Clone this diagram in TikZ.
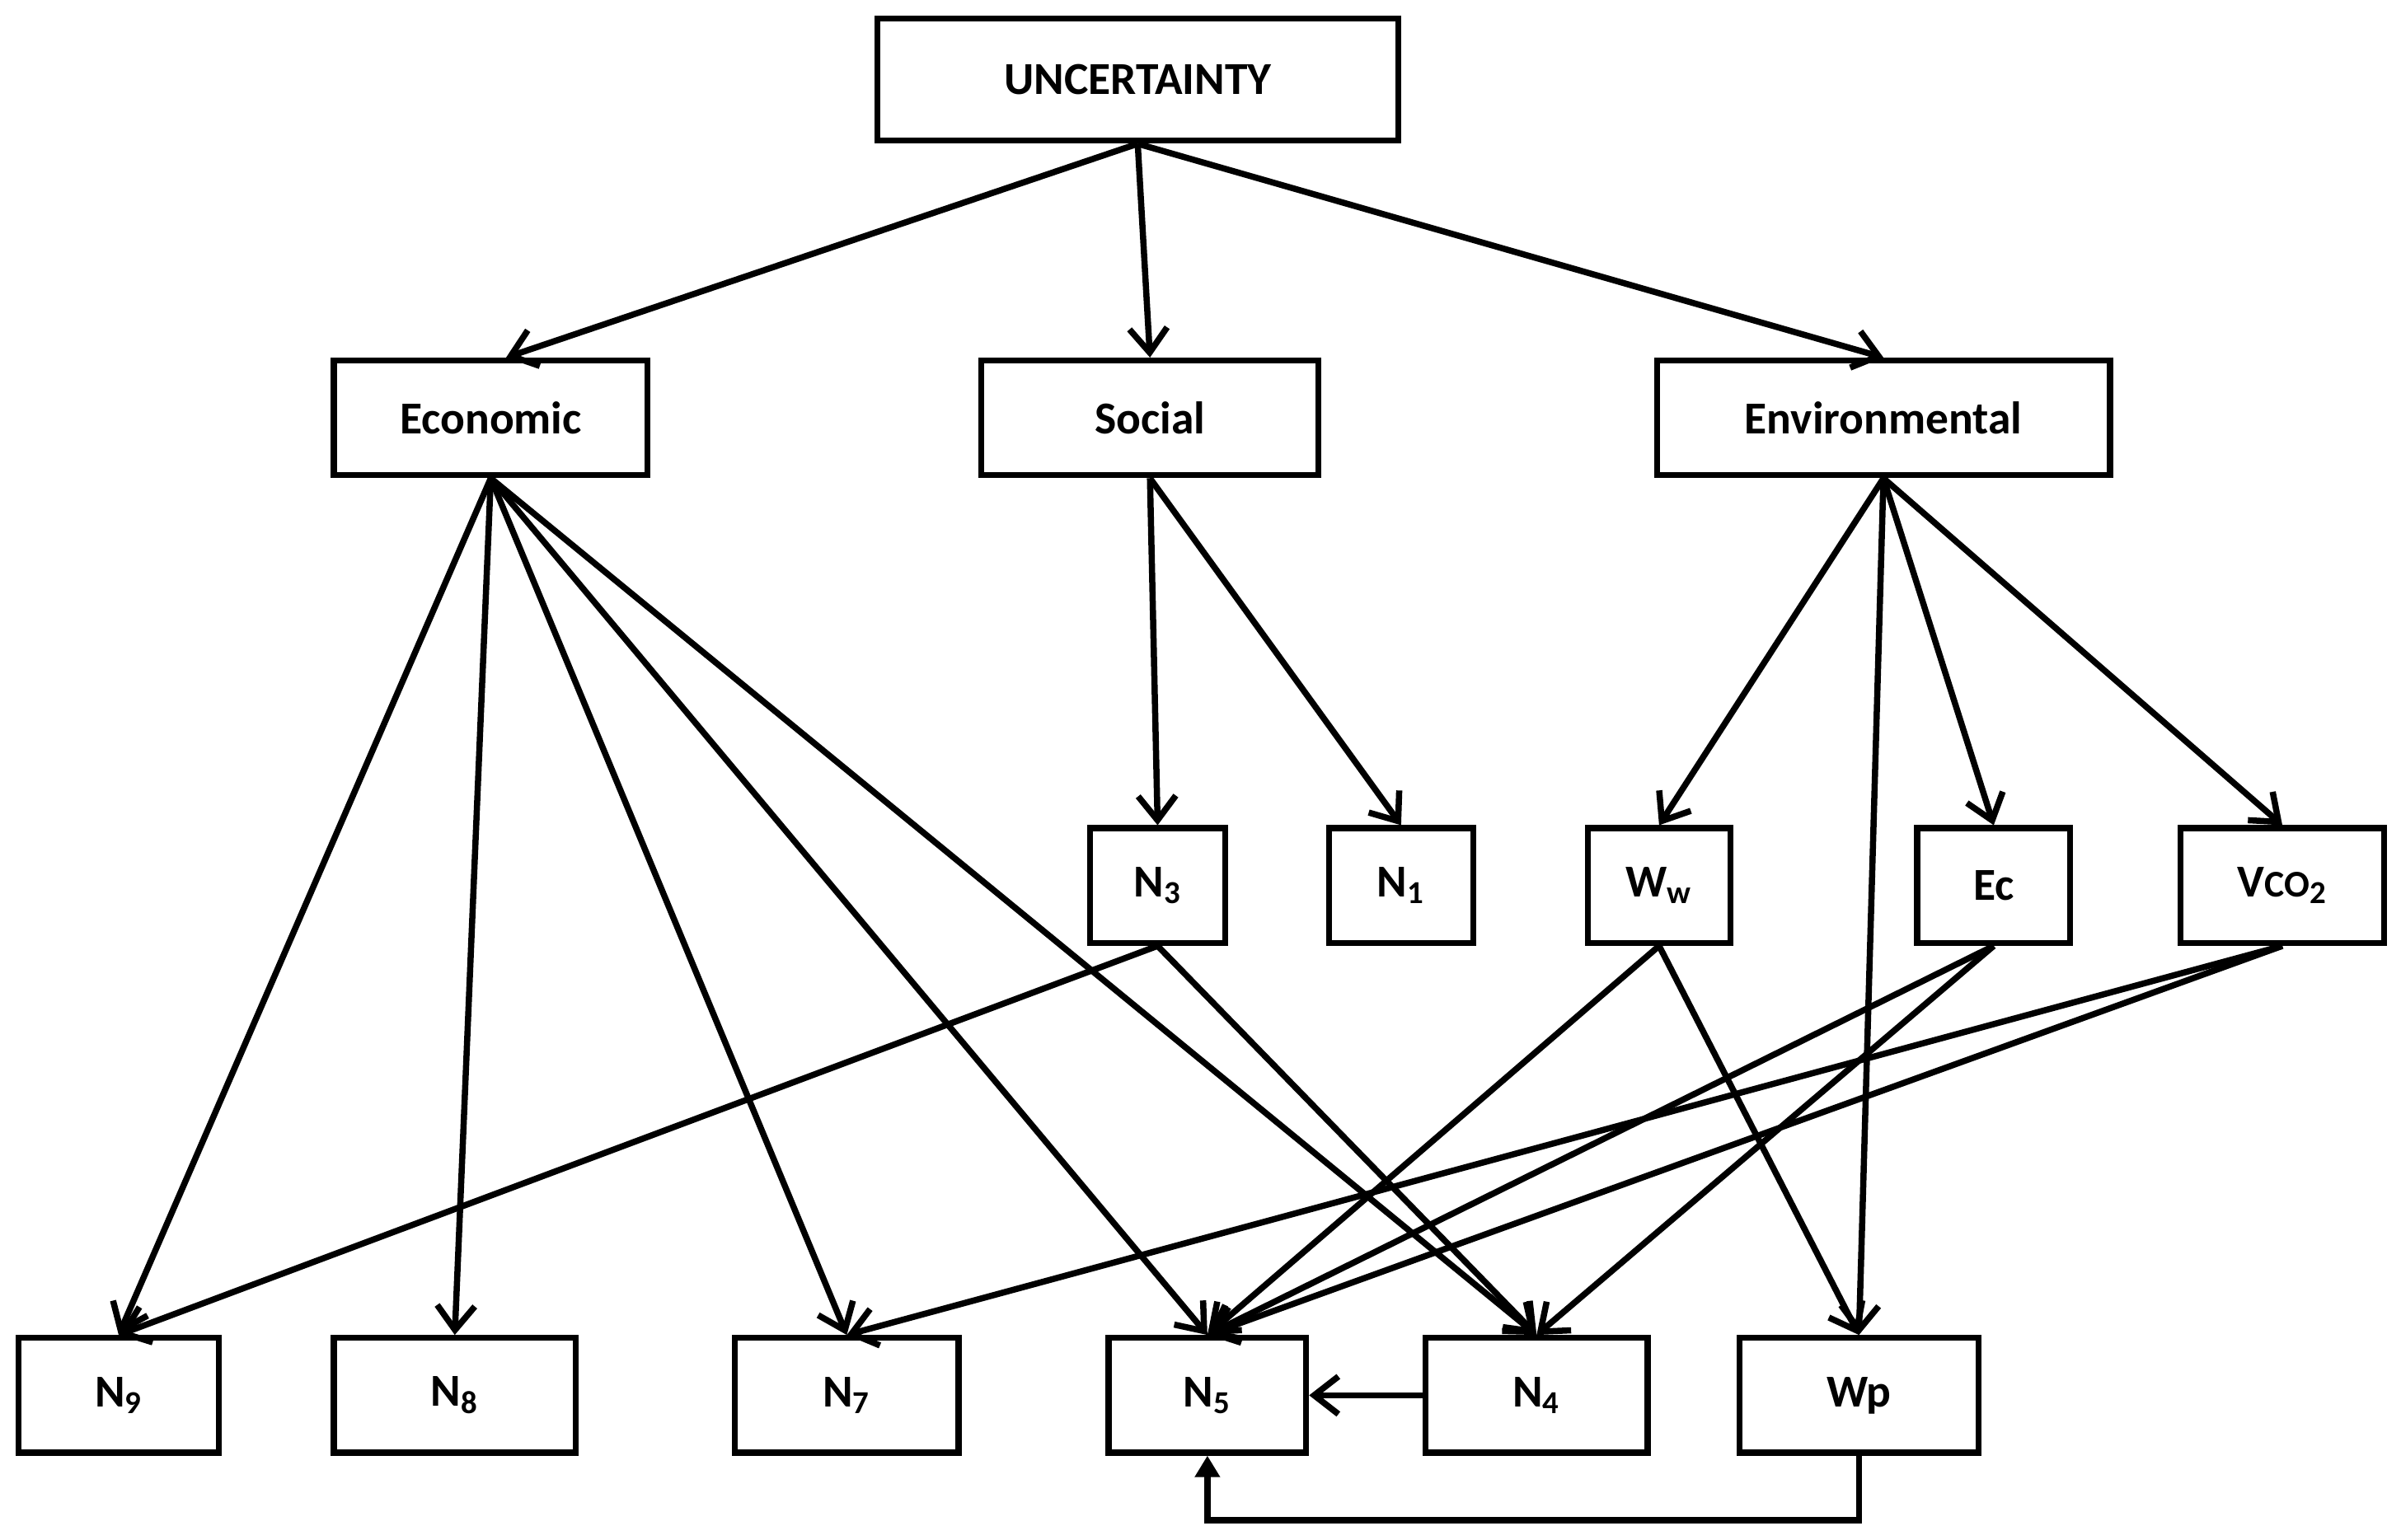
\documentclass[tikz,border=0pt]{standalone}
\usepackage{fontspec}
\setmainfont{Carlito}
\usetikzlibrary{arrows.meta}
\begin{document}
\begin{tikzpicture}[x=0.02cm,y=-0.02cm,
  box/.style={draw,line width=2.2pt,minimum width=#1*0.02cm,minimum height=1.5cm,inner sep=0pt,font=\fontsize{17}{20}\selectfont\bfseries},
  arr/.style={line width=2.3pt,-{Straight Barb[length=9pt,width=14pt,line width=2.3pt]}}]
\useasboundingbox (0,0) rectangle (1568,1006);
\node[box=340,minimum height=1.6cm] (unc) at (743,52) {UNCERTAINTY};
\node[box=205] (eco) at (320.5,273) {Economic};
\node[box=220] (soc) at (751,273) {Social};
\node[box=296] (env) at (1230,273) {Environmental};
\node[box=88] (n3) at (756,578.5) {N\textsubscript{3}};
\node[box=94] (n1) at (915,578.5) {N\textsubscript{1}};
\node[box=93] (ww) at (1083.5,578.5) {W\textsubscript{w}};
\node[box=100] (ec) at (1302,578.5) {Ec};
\node[box=133] (vco) at (1490.5,578.5) {V{\fontsize{14}{16}\selectfont CO}\textsubscript{2}};
\node[box=131] (n9) at (77.5,911.5) {N\textsubscript{9}};
\node[box=158] (n8) at (297,911.5) {N\textsubscript{8}};
\node[box=146] (n7) at (553,911.5) {N\textsubscript{7}};
\node[box=129] (n5) at (788.5,911.5) {N\textsubscript{5}};
\node[box=145] (n4) at (1003.5,911.5) {N\textsubscript{4}};
\node[box=156] (wp) at (1214,911.5) {Wp};
\coordinate (u) at (unc.south);
\coordinate (e) at (eco.south);
\coordinate (s) at (soc.south);
\coordinate (v) at (env.south);
\draw[arr] (u) -- ([xshift=0.2cm]eco.north);
\draw[arr] (u) -- (soc.north);
\draw[arr] (u) -- (env.north);
\foreach \t in {n9,n8,n7,n5,n4} \draw[arr] (e) -- (\t.north);
\draw[arr] (s) -- (n3.north);
\draw[arr] (s) -- (n1.north);
\foreach \t in {ww,wp,ec,vco} \draw[arr] (v) -- (\t.north);
\draw[arr] (n3.south) -- (n9.north);
\draw[arr] (n3.south) -- (n4.north);
\draw[arr] (ww.south) -- (n5.north);
\draw[arr] (ww.south) -- (wp.north);
\draw[arr] (ec.south) -- (n5.north);
\draw[arr] (ec.south) -- (n4.north);
\draw[arr] (vco.south) -- (n7.north);
\draw[arr] (vco.south) -- (n5.north);
\draw[arr] (n4.west) -- (n5.east);
\coordinate (b) at (wp.south |- 0,993);
\draw[line width=2.3pt,-{Triangle[length=8pt,width=9pt]}] (wp.south) -- (b) -- (n5.south |- b) -- (n5.south);
\end{tikzpicture}
\end{document}
